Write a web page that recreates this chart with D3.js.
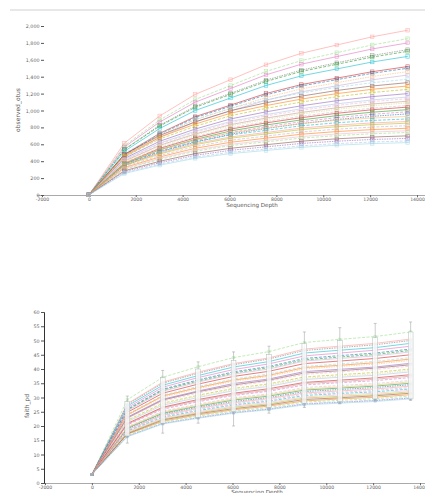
<!DOCTYPE html>
<html><head><meta charset="utf-8">
<script src="https://cdn.jsdelivr.net/npm/d3@7"></script>
<style>
html,body{margin:0;padding:0;background:#fff;}
svg{display:block;}
text{font-family:"DejaVu Sans",sans-serif;}
</style></head>
<body>
<svg id="c" width="425" height="493"></svg>
<script>
const depths = [1, 1512, 3023, 4534, 6045, 7556, 9067, 10578, 12089, 13600];
const xTicks = [-2000, 0, 2000, 4000, 6000, 8000, 10000, 12000, 14000];
const obsTicks = [0, 200, 400, 600, 800, 1000, 1200, 1400, 1600, 1800, 2000];
const faithTicks = [0, 5, 10, 15, 20, 25, 30, 35, 40, 45, 50, 55, 60];

const observedOtus = [
  [1, 614, 936, 1190, 1365, 1541, 1677, 1775, 1872, 1950],
  [1, 583, 888, 1129, 1295, 1462, 1591, 1684, 1776, 1850],
  [1, 567, 864, 1098, 1260, 1422, 1548, 1638, 1728, 1800],
  [1, 542, 826, 1049, 1204, 1359, 1479, 1565, 1651, 1720],
  [1, 536, 816, 1037, 1190, 1343, 1462, 1547, 1632, 1700],
  [1, 517, 787, 1000, 1148, 1296, 1410, 1492, 1574, 1640],
  [1, 479, 730, 927, 1064, 1201, 1307, 1383, 1459, 1520],
  [1, 473, 720, 915, 1050, 1185, 1290, 1365, 1440, 1500],
  [1, 460, 701, 891, 1022, 1153, 1256, 1329, 1402, 1460],
  [1, 447, 682, 866, 994, 1122, 1221, 1292, 1363, 1420],
  [1, 493, 726, 891, 1028, 1123, 1206, 1274, 1329, 1370],
  [1, 479, 705, 865, 998, 1091, 1170, 1237, 1290, 1330],
  [1, 464, 684, 839, 968, 1058, 1135, 1200, 1251, 1290],
  [1, 450, 663, 813, 938, 1025, 1100, 1163, 1213, 1250],
  [1, 432, 636, 780, 900, 984, 1056, 1116, 1164, 1200],
  [1, 418, 615, 754, 870, 951, 1021, 1079, 1125, 1160],
  [1, 410, 604, 741, 855, 935, 1003, 1060, 1106, 1140],
  [1, 400, 588, 722, 833, 910, 977, 1032, 1077, 1110],
  [1, 392, 578, 709, 818, 894, 959, 1014, 1057, 1090],
  [1, 382, 562, 689, 795, 869, 933, 986, 1028, 1060],
  [1, 374, 551, 676, 780, 853, 915, 967, 1009, 1040],
  [1, 364, 535, 657, 758, 828, 889, 939, 980, 1010],
  [1, 355, 522, 640, 739, 808, 867, 916, 955, 985],
  [1, 346, 509, 624, 720, 787, 845, 893, 931, 960],
  [1, 381, 530, 651, 735, 791, 846, 884, 911, 930],
  [1, 369, 513, 630, 711, 765, 819, 855, 882, 900],
  [1, 357, 496, 609, 687, 740, 792, 827, 853, 870],
  [1, 349, 485, 595, 672, 723, 774, 808, 833, 850],
  [1, 336, 467, 574, 648, 697, 746, 779, 804, 820],
  [1, 324, 450, 553, 624, 672, 719, 751, 774, 790],
  [1, 312, 433, 532, 600, 646, 692, 722, 745, 760],
  [1, 303, 422, 518, 585, 629, 673, 703, 725, 740],
  [1, 287, 399, 490, 553, 595, 637, 665, 686, 700],
  [1, 275, 382, 469, 529, 570, 610, 637, 657, 670],
  [1, 262, 365, 448, 506, 544, 582, 608, 627, 640],
  [1, 254, 353, 434, 490, 527, 564, 589, 608, 620]
];

const faithPd = [
  [3, 27.8, 35.4, 38.9, 41.9, 43.9, 47.0, 48.0, 49.0, 50.5],
  [3, 29.2, 37.1, 40.8, 44.0, 46.1, 49.3, 50.4, 51.4, 53.0],
  [3, 26.4, 33.6, 37.0, 39.8, 41.8, 44.6, 45.6, 46.6, 48.0],
  [3, 27.5, 35.0, 38.5, 41.5, 43.5, 46.5, 47.5, 48.5, 50.0],
  [3, 25.6, 32.6, 35.8, 38.6, 40.5, 43.2, 44.2, 45.1, 46.5],
  [3, 27.0, 34.3, 37.7, 40.7, 42.6, 45.6, 46.6, 47.5, 49.0],
  [3, 24.8, 31.5, 34.7, 37.4, 39.2, 41.9, 42.8, 43.7, 45.0],
  [3, 25.9, 32.9, 36.2, 39.0, 40.9, 43.7, 44.7, 45.6, 47.0],
  [3, 23.7, 30.1, 33.1, 35.7, 37.4, 40.0, 40.9, 41.7, 43.0],
  [3, 25.3, 32.2, 35.4, 38.2, 40.0, 42.8, 43.7, 44.6, 46.0],
  [3, 24.2, 30.8, 33.9, 36.5, 38.3, 40.9, 41.8, 42.7, 44.0],
  [3, 22.8, 29.1, 32.0, 34.4, 36.1, 38.6, 39.4, 40.3, 41.5],
  [3, 23.9, 30.5, 33.5, 36.1, 37.8, 40.5, 41.3, 42.2, 43.5],
  [3, 22.0, 28.0, 30.8, 33.2, 34.8, 37.2, 38.0, 38.8, 40.0],
  [3, 23.1, 29.4, 32.3, 34.9, 36.5, 39.1, 39.9, 40.7, 42.0],
  [3, 21.5, 27.3, 30.0, 32.4, 33.9, 36.3, 37.1, 37.8, 39.0],
  [3, 22.6, 28.7, 31.6, 34.0, 35.7, 38.1, 39.0, 39.8, 41.0],
  [3, 20.6, 26.3, 28.9, 31.1, 32.6, 34.9, 35.6, 36.4, 37.5],
  [3, 21.7, 27.7, 30.4, 32.8, 34.4, 36.7, 37.5, 38.3, 39.5],
  [3, 19.8, 25.2, 27.7, 29.9, 31.3, 33.5, 34.2, 34.9, 36.0],
  [3, 20.9, 26.6, 29.3, 31.5, 33.1, 35.3, 36.1, 36.9, 38.0],
  [3, 19.3, 24.5, 27.0, 29.1, 30.5, 32.6, 33.3, 34.0, 35.0],
  [3, 20.4, 25.9, 28.5, 30.7, 32.2, 34.4, 35.2, 35.9, 37.0],
  [3, 19.0, 24.2, 26.6, 28.6, 30.0, 32.1, 32.8, 33.5, 34.5],
  [3, 19.5, 24.9, 27.3, 29.5, 30.9, 33.0, 33.7, 34.4, 35.5],
  [3, 18.2, 23.1, 25.4, 27.4, 28.7, 30.7, 31.4, 32.0, 33.0],
  [3, 18.7, 23.8, 26.2, 28.2, 29.6, 31.6, 32.3, 33.0, 34.0],
  [3, 17.6, 22.4, 24.6, 26.6, 27.8, 29.8, 30.4, 31.0, 32.0],
  [3, 18.4, 23.5, 25.8, 27.8, 29.1, 31.2, 31.8, 32.5, 33.5],
  [3, 17.1, 21.7, 23.9, 25.7, 27.0, 28.8, 29.5, 30.1, 31.0],
  [3, 17.9, 22.8, 25.0, 27.0, 28.3, 30.2, 30.9, 31.5, 32.5],
  [3, 16.8, 21.4, 23.5, 25.3, 26.5, 28.4, 29.0, 29.6, 30.5],
  [3, 17.3, 22.1, 24.3, 26.1, 27.4, 29.3, 29.9, 30.6, 31.5],
  [3, 16.4, 20.9, 22.9, 24.7, 25.9, 27.7, 28.3, 28.9, 29.8],
  [3, 16.5, 21.0, 23.1, 24.9, 26.1, 27.9, 28.5, 29.1, 30.0],
  [3, 16.2, 20.7, 22.7, 24.5, 25.7, 27.4, 28.0, 28.6, 29.5]
];

// faith_pd spread per depth (box and whiskers)
const faithBoxLow  = [16.5, 21.0, 23.0, 25.0, 26.5, 28.0, 28.5, 29.5, 29.5];
const faithBoxHigh = [28.5, 37.0, 40.0, 43.0, 45.0, 49.0, 50.0, 51.0, 53.0];
const faithWhiskLow  = [14.0, 17.5, 21.0, 20.0, 24.5, 26.5, 28.0, 29.0, 29.0];
const faithWhiskHigh = [30.5, 39.5, 42.5, 46.0, 48.0, 53.0, 54.5, 56.0, 56.5];

const palette = ["#1f77b4","#aec7e8","#ff7f0e","#ffbb78","#2ca02c","#98df8a","#d62728","#ff9896",
  "#9467bd","#c5b0d5","#8c564b","#c49c94","#e377c2","#f7b6d2","#7f7f7f","#c7c7c7","#bcbd22","#dbdb8d","#17becf","#9edae5"];
const seriesColors = [7,5,12,14,4,18,6,0,3,9,19,10,2,16,8,1,13,11,17,15,6,4,12,0,3,18,7,16,9,2,13,5,10,8,1,19].map(i => palette[i]);

const svg = d3.select("#c");
const font = "DejaVu Sans";

// top rule
svg.append("line").attr("x1",10).attr("x2",425).attr("y1",10).attr("y2",10)
  .attr("stroke","#d0d0d0").attr("stroke-width",1);

function drawPlot(cfg){
  const g = svg.append("g");
  const x = d3.scaleLinear().domain([-2000,14000]).range(cfg.xRange);
  const y = d3.scaleLinear().domain(cfg.yDomain).range(cfg.yRange);

  g.append("line").attr("x1",cfg.xLineStart).attr("x2",425)
    .attr("y1",y(0)+0.5).attr("y2",y(0)+0.5).attr("stroke","#aaa").attr("stroke-width",1);

  const xa = g.append("g").attr("transform",`translate(0,${y(0)})`)
    .call(d3.axisBottom(x).tickValues(xTicks).tickFormat(d => String(d)).tickSize(2).tickPadding(1));
  xa.select(".domain").remove();
  xa.selectAll("line").attr("stroke","#666");
  xa.selectAll("text").attr("font-size",4.6).attr("fill","#666").attr("font-family",font);

  const ya = g.append("g").attr("transform",`translate(${cfg.yAxisX},0)`)
    .call(d3.axisLeft(y).tickValues(cfg.yTicks).tickFormat(cfg.yFormat).tickSize(3).tickPadding(1.5));
  if (cfg.yDomainLine) {
    ya.select(".domain").attr("stroke","#333").attr("stroke-width",1);
  } else ya.select(".domain").remove();
  ya.selectAll("line").attr("stroke","#555");
  ya.selectAll("text").attr("font-size",4.8).attr("fill","#666").attr("font-family",font);

  g.append("text").attr("x",cfg.xTitle[0]).attr("y",cfg.xTitle[1]).attr("text-anchor","middle")
    .attr("font-size",5.6).attr("fill","#555").attr("font-family",font).text("Sequencing Depth");
  g.append("text").attr("transform",`translate(${cfg.yTitle[0]},${cfg.yTitle[1]}) rotate(-90)`)
    .attr("text-anchor","middle").attr("font-size",6).attr("fill","#555").attr("font-family",font).text(cfg.yLabel);

  const line = d3.line().x((d,i)=>x(depths[i])).y(d=>y(d));
  const data = cfg.data;
  g.append("g").selectAll("path").data(data).join("path")
    .attr("d", d => line(d)).attr("fill","none")
    .attr("stroke",(d,i)=>seriesColors[i]).attr("stroke-width",0.8)
    .attr("stroke-opacity",0.75)
    .attr("stroke-dasharray",(d,i)=> i%3===1 ? "3,1.5" : (i%5===3 ? "1.5,1" : null));

  const mg = g.append("g");
  data.forEach((s,i)=>{
    mg.selectAll(null).data(s).join("rect")
      .attr("x",(d,j)=>x(depths[j])-cfg.ms/2).attr("y",d=>y(d)-cfg.ms/2)
      .attr("width",cfg.ms).attr("height",cfg.ms)
      .attr("fill",seriesColors[i]).attr("fill-opacity",cfg.mFill)
      .attr("stroke",seriesColors[i]).attr("stroke-width",0.5).attr("stroke-opacity",cfg.mStroke);
  });

  if (cfg.boxes) {
    const bg = g.append("g");
    const cols = depths.slice(1);
    cols.forEach((dp,k)=>{
      const cx = x(dp);
      bg.append("line").attr("x1",cx).attr("x2",cx).attr("y1",y(faithWhiskLow[k])).attr("y2",y(faithWhiskHigh[k]))
        .attr("stroke","#999").attr("stroke-width",0.5);
      [faithWhiskLow[k], faithWhiskHigh[k]].forEach(v=>{
        bg.append("line").attr("x1",cx-1.5).attr("x2",cx+1.5).attr("y1",y(v)).attr("y2",y(v))
          .attr("stroke","#999").attr("stroke-width",0.5);
      });
      bg.append("rect").attr("x",cx-2.4).attr("width",4.8)
        .attr("y",y(faithBoxHigh[k])).attr("height",y(faithBoxLow[k])-y(faithBoxHigh[k]))
        .attr("fill","#fff").attr("fill-opacity",0.82).attr("stroke","#9aa").attr("stroke-width",0.4);
    });
  }
}

drawPlot({
  xRange:[42,417], yDomain:[0,2000], yRange:[195,26], yTicks:obsTicks,
  yFormat:d3.format(","), yAxisX:44, yDomainLine:false, xLineStart:37,
  xTitle:[252,207], yTitle:[20,110], yLabel:"observed_otus",
  data:observedOtus, boxes:false, ms:3.6, mFill:0.15, mStroke:0.7
});

drawPlot({
  xRange:[45,420], yDomain:[0,60], yRange:[483,312], yTicks:faithTicks,
  yFormat:d3.format("d"), yAxisX:44, yDomainLine:true, xLineStart:44,
  xTitle:[257,494], yTitle:[29,406], yLabel:"faith_pd",
  data:faithPd, boxes:true, ms:2.4, mFill:0.2, mStroke:0.5
});
</script>
</body></html>
